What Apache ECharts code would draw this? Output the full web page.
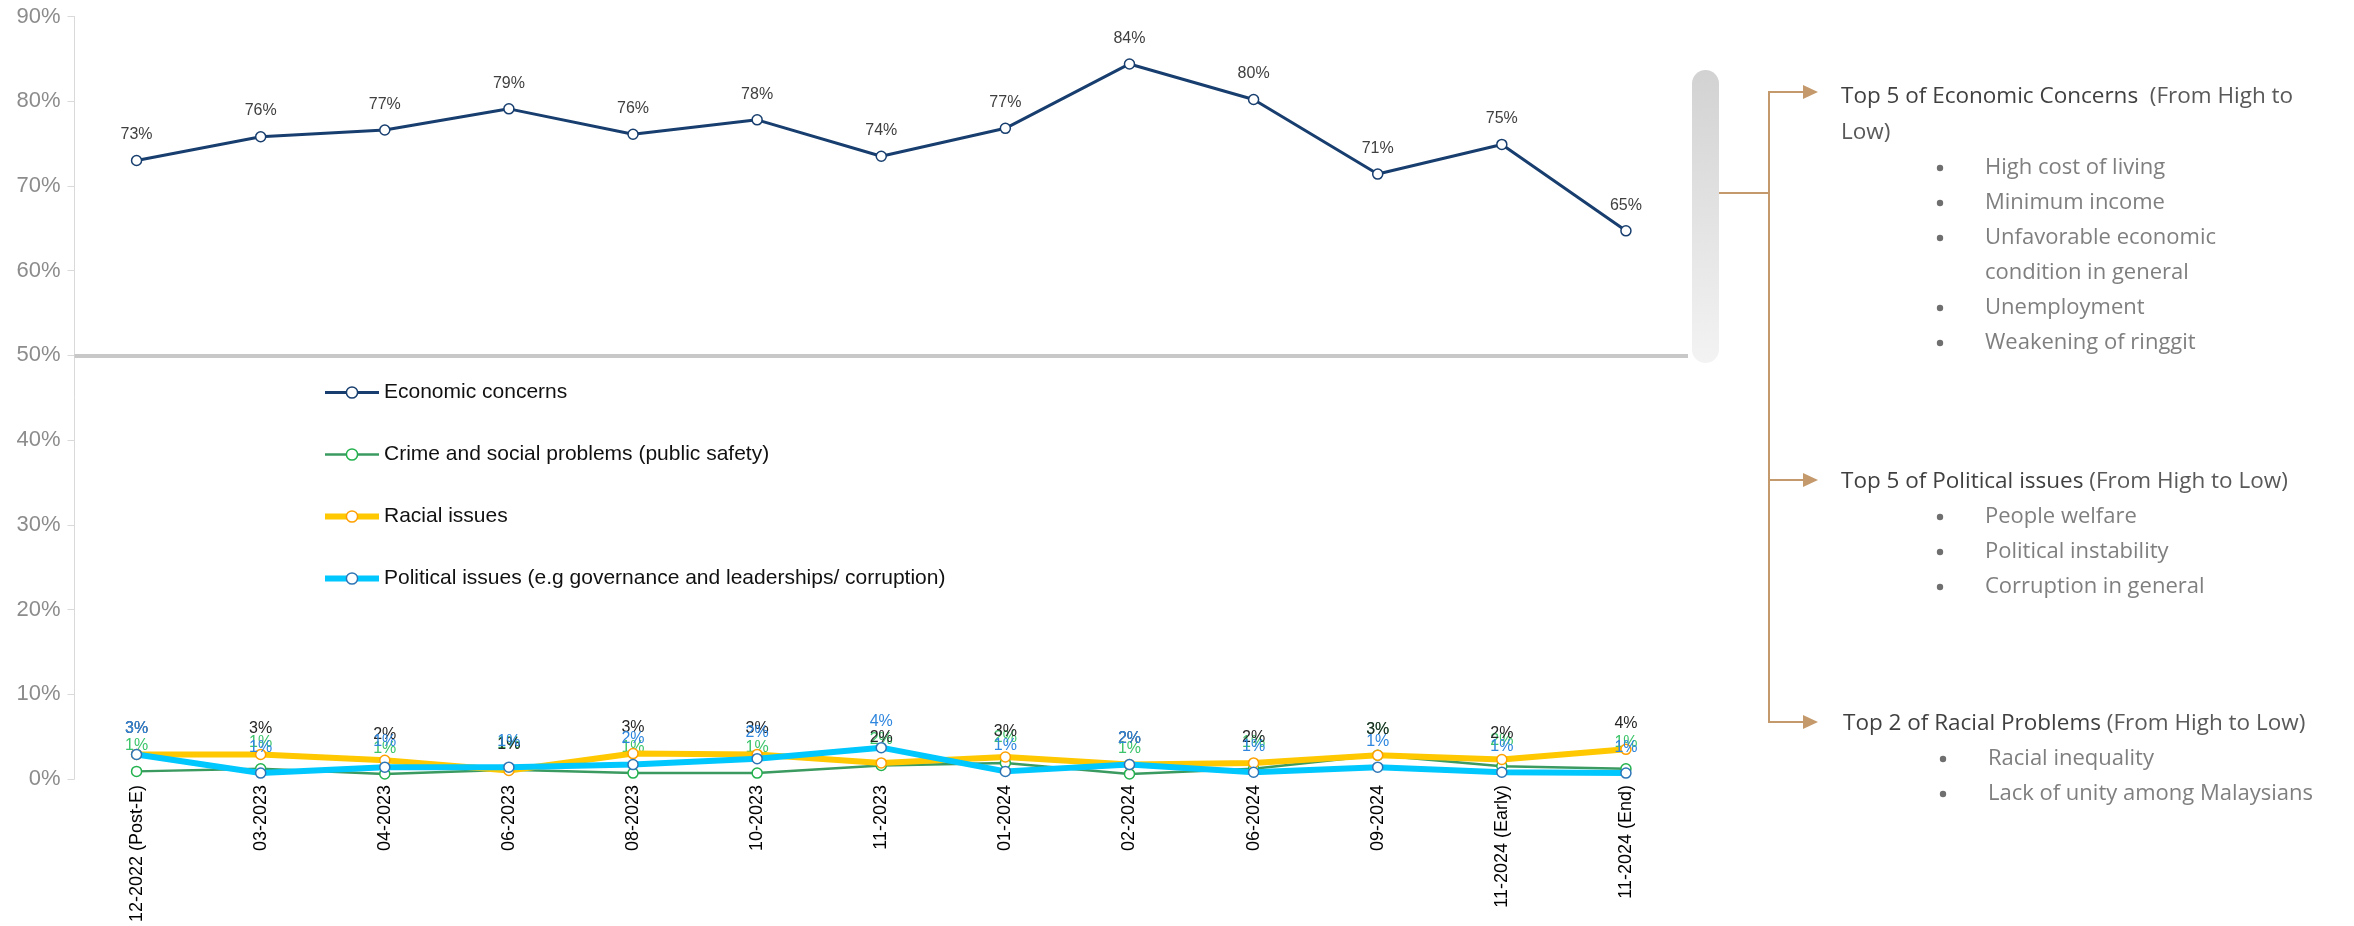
<!DOCTYPE html>
<html>
<head>
<meta charset="utf-8">
<script src="https://cdn.jsdelivr.net/npm/echarts/dist/echarts.min.js"></script>
<style>
html,body{margin:0;padding:0;background:#fff;}
#chart{width:2354px;height:926px;}
</style>
</head>
<body>
<div id="chart"></div>
<script>
// ---- data ----
const categories = ['12-2022 (Post-E)','03-2023','04-2023','06-2023','08-2023','10-2023','11-2023','01-2024','02-2024','06-2024','09-2024','11-2024 (Early)','11-2024 (End)'];
const seriesNames = ['Economic concerns','Crime and social problems (public safety)','Racial issues','Political issues (e.g governance and leaderships/ corruption)'];
const economic  = [73.0, 75.8, 76.6, 79.1, 76.1, 77.8, 73.5, 76.8, 84.4, 80.2, 71.4, 74.9, 64.7];
const crime     = [0.9, 1.2, 0.6, 1.1, 0.7, 0.7, 1.6, 1.9, 0.6, 1.2, 2.8, 1.5, 1.2];
const racial    = [2.9, 2.9, 2.2, 1.0, 3.0, 2.9, 1.9, 2.6, 1.7, 1.9, 2.8, 2.3, 3.5];
const political = [2.9, 0.7, 1.4, 1.4, 1.7, 2.4, 3.7, 0.9, 1.7, 0.8, 1.4, 0.8, 0.7];
const yTicks = { min: 0, max: 90, interval: 10 };

const econHeading = ['Top 5 of Economic Concerns', '  (From High to', 'Low)'];
const econItems = ['High cost of living', 'Minimum income', 'Unfavorable economic', 'condition in general', 'Unemployment', 'Weakening of ringgit'];
const econBulleted = [true, true, true, false, true, true];
const polHeading = ['Top 5 of Political issues', ' (From High to Low)'];
const polItems = ['People welfare', 'Political instability', 'Corruption in general'];
const racHeading = ['Top 2 of Racial Problems', ' (From High to Low)'];
const racItems = ['Racial inequality', 'Lack of unity among Malaysians'];

// ---- chart ----
const chart = echarts.init(document.getElementById('chart'));
const baseFont = 'Liberation Sans, Arial, sans-serif';
const sideFont = 'Open Sans, sans-serif';
const brown = '#C49A6C';

const styles = [
  { line: '#173E6E', width: 3,   border: '#173E6E', label: '#404040', z: 5 },
  { line: '#3A9A60', width: 2.5, border: '#22B14C', label: '#3CC46A', z: 2 },
  { line: '#FFC800', width: 6,   border: '#FFA000', label: '#262626', z: 3 },
  { line: '#00C8FF', width: 6,   border: '#2E75B6', label: '#2E86DE', z: 4 }
];
const dataSets = [economic, crime, racial, political];

const series = dataSets.map((d, i) => {
  const s = styles[i];
  const obj = {
    name: seriesNames[i], type: 'line', data: d, z: s.z,
    symbol: 'circle', symbolSize: 10,
    lineStyle: { color: s.line, width: s.width },
    itemStyle: { color: '#fff', borderColor: s.border, borderWidth: 1.5 },
    label: {
      show: true, position: 'top', distance: 12,
      formatter: p => Math.round(p.value) + '%',
      color: s.label, fontFamily: baseFont, fontSize: 16
    },
    emphasis: { disabled: true }
  };
  if (i === 0) {
    obj.markLine = {
      silent: true, symbol: 'none', label: { show: false },
      lineStyle: { color: '#c8c8c8', width: 4, type: 'solid' },
      data: [{ yAxis: 50 }]
    };
  }
  return obj;
});

const legendData = seriesNames.map((n, i) => ({
  name: n,
  itemStyle: { color: '#fff', borderColor: styles[i].border, borderWidth: 1.5 },
  lineStyle: { color: styles[i].line, width: styles[i].width }
}));

// right-side annotation graphics
const graphic = [];
graphic.push({
  type: 'rect', shape: { x: 1692, y: 70, width: 27, height: 293, r: 13.5 },
  style: { fill: new echarts.graphic.LinearGradient(0, 0, 0.35, 1, [
    { offset: 0, color: '#d2d2d2' }, { offset: 1, color: '#f3f3f3' }]) }
});
graphic.push({ type: 'polyline', shape: { points: [[1719, 193], [1769, 193]] }, style: { stroke: brown, lineWidth: 2, fill: null } });
graphic.push({ type: 'polyline', shape: { points: [[1769, 91], [1769, 723]] }, style: { stroke: brown, lineWidth: 2, fill: null } });
[92, 480, 722].forEach(y => {
  graphic.push({ type: 'polyline', shape: { points: [[1769, y], [1805, y]] }, style: { stroke: brown, lineWidth: 2, fill: null } });
  graphic.push({ type: 'polygon', shape: { points: [[1803, y - 7], [1818, y], [1803, y + 7]] }, style: { fill: brown } });
});

function heading(x, y, parts) {
  graphic.push({
    type: 'text', x: x, y: y,
    style: {
      text: '{a|' + parts[0] + '}{b|' + parts[1] + '}',
      verticalAlign: 'middle',
      rich: {
        a: { fontFamily: sideFont, fontSize: 22.5, fill: '#404040', color: '#404040' },
        b: { fontFamily: sideFont, fontSize: 22.5, fill: '#595959', color: '#595959' }
      }
    }
  });
}
function plain(x, y, txt, color, size) {
  graphic.push({ type: 'text', x: x, y: y,
    style: { text: txt, fontFamily: sideFont, fontSize: size || 22, fill: color, verticalAlign: 'middle' } });
}
function bullets(xb, xt, y0, items, flags) {
  items.forEach((t, i) => {
    const y = y0 + i * 35;
    if (!flags || flags[i]) {
      graphic.push({ type: 'circle', shape: { cx: xb, cy: y, r: 3.2 }, style: { fill: '#6f6f6f' } });
    }
    plain(xt, y, t, '#7f7f7f');
  });
}

heading(1841, 97, econHeading);
plain(1841, 133, econHeading[2], '#595959', 22.5);
bullets(1940, 1985, 168, econItems, econBulleted);
heading(1841, 482, polHeading);
bullets(1940, 1985, 517, polItems);
heading(1843, 724, racHeading);
bullets(1943, 1988, 759, racItems);

chart.setOption({
  animation: false,
  backgroundColor: '#fff',
  grid: { left: 74.5, right: 666, top: 16.5, bottom: 147, containLabel: false },
  legend: {
    orient: 'vertical', left: 317, top: 377,
    itemWidth: 54, itemHeight: 14, itemGap: 41,
    textStyle: { fontFamily: baseFont, fontSize: 21, color: '#111' },
    data: legendData
  },
  xAxis: {
    type: 'category', data: categories, boundaryGap: true,
    axisLine: { show: false }, axisTick: { show: false },
    axisLabel: { rotate: 90, interval: 0, margin: 6, color: '#000', fontFamily: baseFont, fontSize: 18 }
  },
  yAxis: {
    type: 'value', min: yTicks.min, max: yTicks.max, interval: yTicks.interval,
    axisLine: { show: true, lineStyle: { color: '#d9d9d9', width: 1 } },
    axisTick: { show: true, length: 7, lineStyle: { color: '#d9d9d9' } },
    splitLine: { show: false },
    axisLabel: { formatter: '{value}%', color: '#8c8c8c', fontFamily: baseFont, fontSize: 22, margin: 14 }
  },
  series: series,
  graphic: graphic
});
</script>
</body>
</html>
